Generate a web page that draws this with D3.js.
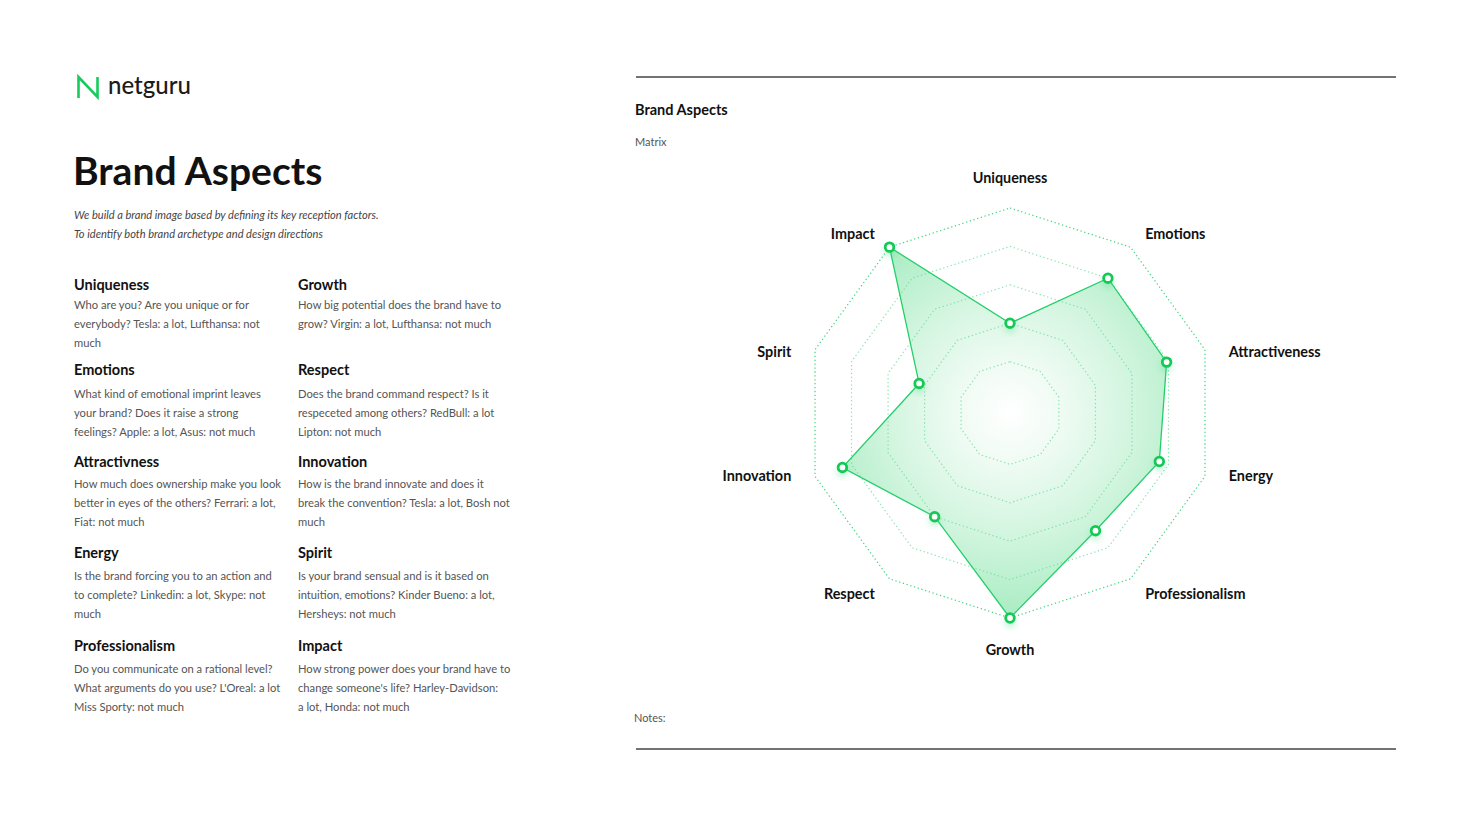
<!DOCTYPE html>
<html>
<head>
<meta charset="utf-8">
<script src="https://cdn.jsdelivr.net/npm/d3@7"></script>
<style>
  html, body { margin: 0; padding: 0; background: #fff; }
  svg { display: block; font-family: Lato, "Noto Sans", sans-serif; }
</style>
</head>
<body>
<svg id="page" width="1470" height="827"></svg>
<script>
// radar axes, clockwise from the top
var axes = ["Uniqueness", "Emotions", "Attractiveness", "Energy", "Professionalism",
            "Growth", "Respect", "Innovation", "Spirit", "Impact"];
// score on each axis (0-5)
var scores = [2, 4, 3.95, 3.75, 3.45, 5, 3, 4.25, 2.15, 5];
// grid rings
var levels = [1, 2, 3, 4, 5];

// descriptions on the left, two columns
var leftColumn = [
  {title: "Uniqueness", lines: ["Who are you? Are you unique or for", "everybody? Tesla: a lot, Lufthansa: not", "much"]},
  {title: "Emotions", lines: ["What kind of emotional imprint leaves", "your brand? Does it raise a strong", "feelings? Apple: a lot, Asus: not much"]},
  {title: "Attractivness", lines: ["How much does ownership make you look", "better in eyes of the others? Ferrari: a lot,", "Fiat: not much"]},
  {title: "Energy", lines: ["Is the brand forcing you to an action and", "to complete? Linkedin: a lot, Skype: not", "much"]},
  {title: "Professionalism", lines: ["Do you communicate on a rational level?", "What arguments do you use? L'Oreal: a lot", "Miss Sporty: not much"]}
];
var rightColumn = [
  {title: "Growth", lines: ["How big potential does the brand have to", "grow? Virgin: a lot, Lufthansa: not much"]},
  {title: "Respect", lines: ["Does the brand command respect? Is it", "respeceted among others? RedBull: a lot", "Lipton: not much"]},
  {title: "Innovation", lines: ["How is the brand innovate and does it", "break the convention? Tesla: a lot, Bosh not", "much"]},
  {title: "Spirit", lines: ["Is your brand sensual and is it based on", "intuition, emotions? Kinder Bueno: a lot,", "Hersheys: not much"]},
  {title: "Impact", lines: ["How strong power does your brand have to", "change someone's life? Harley-Davidson:", "a lot, Honda: not much"]}
];

var svg = d3.select("#page");
var green = "#17cc5c";

// ---------- left side ----------
// logo mark
svg.append("path")
  .attr("d", "M78.5,98 V77 L97.5,97 V77")
  .attr("fill", "none")
  .attr("stroke", green)
  .attr("stroke-width", 2.6)
  .attr("stroke-linejoin", "miter");
svg.append("text")
  .attr("x", 108).attr("y", 94)
  .attr("font-size", 24).attr("font-weight", 500)
  .attr("fill", "#1b1b1b")
  .text("netguru");

svg.append("text")
  .attr("x", 73).attr("y", 185)
  .attr("font-size", 39).attr("font-weight", 700)
  .attr("fill", "#111")
  .text("Brand Aspects");

svg.selectAll("text.intro")
  .data(["We build a brand image based by defining its key reception factors.",
         "To identify both brand archetype and design directions"])
  .enter().append("text")
    .attr("class", "intro")
    .attr("x", 74)
    .attr("y", function(d, i){ return 219 + i * 19 })
    .attr("font-size", 11.1)
    .attr("font-style", "italic")
    .attr("fill", "#444")
    .text(function(d){ return d });

var headY = [285, 370, 462, 553, 646];
var bodyY = [305, 394, 484, 576, 669];

function drawColumn(items, x) {
  var g = svg.append("g");
  items.forEach(function(item, i) {
    g.append("text")
      .attr("x", x).attr("y", headY[i] + 5)
      .attr("font-size", 14.5).attr("font-weight", 700)
      .attr("fill", "#111")
      .text(item.title);
    g.selectAll(null)
      .data(item.lines)
      .enter().append("text")
        .attr("x", x)
        .attr("y", function(d, j){ return bodyY[i] + 4 + j * 19 })
        .attr("font-size", 11.2)
        .attr("fill", "#555")
        .text(function(d){ return d });
  });
}
drawColumn(leftColumn, 74);
drawColumn(rightColumn, 298);

// ---------- right side frame ----------
[77, 749].forEach(function(y) {
  svg.append("line")
    .attr("x1", 636).attr("x2", 1396)
    .attr("y1", y).attr("y2", y)
    .attr("stroke", "#444").attr("stroke-width", 1.5);
});
svg.append("text").attr("x", 635).attr("y", 115)
  .attr("font-size", 14.5).attr("font-weight", 700).attr("fill", "#111")
  .text("Brand Aspects");
svg.append("text").attr("x", 635).attr("y", 146)
  .attr("font-size", 11).attr("fill", "#555")
  .text("Matrix");
svg.append("text").attr("x", 634).attr("y", 722)
  .attr("font-size", 11).attr("fill", "#555")
  .text("Notes:");

// ---------- radar ----------
var cx = 1010, cy = 413;
var step = 2 * Math.PI / axes.length;
var r = d3.scaleLinear().domain([0, 5]).range([13, 205]);

var defs = svg.append("defs");
// gradient lives in the radar group's coordinates (centre = 0,0)
var grad = defs.append("radialGradient")
  .attr("id", "areaFill")
  .attr("gradientUnits", "userSpaceOnUse")
  .attr("cx", 0).attr("cy", 0).attr("r", r(5));
grad.append("stop").attr("offset", "0").attr("stop-color", "#ffffff");
grad.append("stop").attr("offset", "0.2").attr("stop-color", "#f3fcf6");
grad.append("stop").attr("offset", "0.6").attr("stop-color", "#d2f5df");
grad.append("stop").attr("offset", "1").attr("stop-color", "#a8ecc2");

var glow = defs.append("filter").attr("id", "glow")
  .attr("x", "-100%").attr("y", "-100%").attr("width", "300%").attr("height", "300%");
glow.append("feDropShadow")
  .attr("dx", 0).attr("dy", 4).attr("stdDeviation", 3)
  .attr("flood-color", "#3bd67e").attr("flood-opacity", 0.3);

var radar = svg.append("g").attr("transform", "translate(" + cx + "," + cy + ")");

var area = d3.lineRadial()
  .angle(function(d, i){ return i * step })
  .radius(function(d){ return r(d) })
  .curve(d3.curveLinearClosed);

radar.append("path")
  .datum(scores)
  .attr("d", area)
  .attr("fill", "url(#areaFill)");

// dotted rings
radar.selectAll("path.ring")
  .data(levels)
  .enter().append("path")
    .attr("class", "ring")
    .attr("d", function(l){ return area(axes.map(function(){ return l })) })
    .attr("fill", "none")
    .attr("stroke", function(l){ return l === 5 ? "#3fd681" : "#6ddd9c" })
    .attr("stroke-width", 1.2)
    .attr("stroke-dasharray", "1.3,2.6")
    .attr("opacity", function(l){ return l === 5 ? 1 : 0.8 });

radar.append("path")
  .datum(scores)
  .attr("d", area)
  .attr("fill", "none")
  .attr("stroke", "#22cf69")
  .attr("stroke-width", 1.3);

radar.selectAll("circle.pt")
  .data(scores)
  .enter().append("circle")
    .attr("class", "pt")
    .attr("cx", function(d, i){ return r(d) * Math.sin(i * step) })
    .attr("cy", function(d, i){ return -r(d) * Math.cos(i * step) })
    .attr("r", 4.3)
    .attr("fill", "#fff")
    .attr("stroke", "#12c955")
    .attr("stroke-width", 2.8)
    .attr("filter", "url(#glow)");

// axis labels
radar.selectAll("text.axis")
  .data(axes)
  .enter().append("text")
    .attr("class", "axis")
    .attr("x", function(d, i){ return 230 * Math.sin(i * step) })
    .attr("y", function(d, i){
      var s = Math.sin(i * step);
      return -(236 - 38 * s * s) * Math.cos(i * step) + 6;
    })
    .attr("text-anchor", function(d, i){
      var s = Math.sin(i * step);
      return Math.abs(s) < 0.1 ? "middle" : (s > 0 ? "start" : "end");
    })
    .attr("font-size", 14.4)
    .attr("font-weight", 700)
    .attr("fill", "#111")
    .text(function(d){ return d });
</script>
</body>
</html>
